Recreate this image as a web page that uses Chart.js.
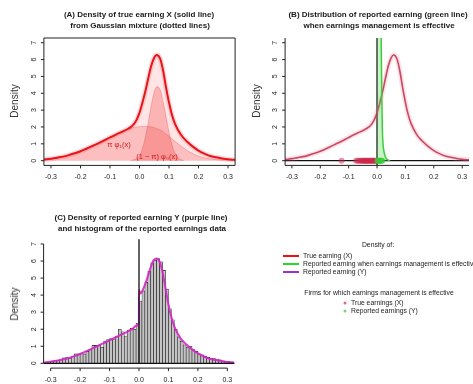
<!DOCTYPE html>
<html><head><meta charset="utf-8">
<script src="https://cdn.jsdelivr.net/npm/chart.js@4"></script>
<style>
html,body{margin:0;padding:0;width:473px;height:384px;overflow:hidden;background:#fff;font-family:"Liberation Sans",Arial,sans-serif;}
canvas{position:absolute;left:0;top:0;}
.t{position:absolute;white-space:nowrap;transform:translate(-50%,-50%);color:#1a1a1a;line-height:1;}
.title{font-weight:bold;font-size:8px;}
.ylab{font-size:10px;transform:translate(-50%,-50%) rotate(-90deg);color:#333;}
.ann{font-size:7.5px;color:#d01818;}
.lg{position:absolute;white-space:nowrap;font-size:6.8px;color:#222;line-height:1;transform:translateY(-50%);}
.lgc{position:absolute;white-space:nowrap;font-size:6.8px;color:#222;line-height:1;transform:translate(-50%,-50%);}
.ln{position:absolute;height:2px;width:16px;}
.dot{position:absolute;width:3px;height:3px;border-radius:50%;transform:translate(-50%,-50%);}
</style></head><body>
<canvas id="cA" width="473" height="384"></canvas>
<canvas id="cB" width="473" height="384"></canvas>
<canvas id="cC" width="473" height="384"></canvas>

<div class="t title" style="left:139px;top:15px">(A) Density of true earning X (solid line)</div>
<div class="t title" style="left:140px;top:26px">from Gaussian mixture (dotted lines)</div>
<div class="t title" style="left:378px;top:15px">(B) Distribution of reported earning (green line)</div>
<div class="t title" style="left:379px;top:26px">when earnings management is effective</div>
<div class="t title" style="left:141px;top:218px">(C) Density of reported earning Y (purple line)</div>
<div class="t title" style="left:142px;top:229px">and histogram of the reported earnings data</div>

<div class="t ylab" style="left:15px;top:101px">Density</div>
<div class="t ylab" style="left:257px;top:101px">Density</div>
<div class="t ylab" style="left:15px;top:304px">Density</div>

<div class="t ann" style="left:119px;top:145px">π φ₁(x)</div>
<div class="t ann" style="left:157px;top:157px">(1 − π) φ₀(x)</div>

<div class="lgc" style="left:378px;top:245px">Density of:</div>
<div class="ln" style="left:283px;top:255px;background:#ee1111"></div>
<div class="lg" style="left:303px;top:256px">True earning (X)</div>
<div class="ln" style="left:283px;top:263px;background:#22dd22"></div>
<div class="lg" style="left:303px;top:264px">Reported earning when earnings management is effective</div>
<div class="ln" style="left:283px;top:271px;background:#9933cc"></div>
<div class="lg" style="left:303px;top:272px">Reported earning (Y)</div>
<div class="lgc" style="left:379px;top:293px">Firms for which earnings management is effective</div>
<div class="dot" style="left:345px;top:303px;background:rgba(220,40,70,0.7)"></div>
<div class="lg" style="left:351px;top:303px">True earnings (X)</div>
<div class="dot" style="left:345px;top:311px;background:rgba(60,200,60,0.7)"></div>
<div class="lg" style="left:351px;top:311px">Reported earnings (Y)</div>

<script>
// ---------- data ----------
const xTicks = [-0.3,-0.2,-0.1,0.0,0.1,0.2,0.3];
const yTicks = [0,1,2,3,4,5,6,7];

// density of true earning X (mixture)
const xTrue = [-0.324,-0.3,-0.28,-0.26,-0.24,-0.22,-0.2,-0.18,-0.16,-0.14,-0.12,-0.1,-0.08,-0.06,-0.04,-0.03,-0.02,-0.01,0,0.01,0.02,0.03,0.04,0.05,0.058,0.07,0.08,0.09,0.1,0.11,0.12,0.14,0.16,0.18,0.2,0.22,0.24,0.26,0.28,0.3,0.324];
const dTrue = [0.07,0.12,0.18,0.24,0.33,0.44,0.56,0.71,0.87,1.03,1.2,1.38,1.55,1.71,1.88,1.99,2.15,2.42,2.85,3.45,4.13,4.92,5.65,6.12,6.27,6.05,5.35,4.35,3.45,2.72,2.2,1.55,1.15,0.85,0.6,0.42,0.28,0.2,0.13,0.08,0.05];

// wide component  pi*phi1
const xWide = [-0.324,-0.3,-0.25,-0.2,-0.15,-0.1,-0.05,-0.03,0,0.02,0.04,0.06,0.08,0.1,0.12,0.14,0.16,0.18,0.2,0.22,0.25,0.3,0.324];
const dWide = [0.07,0.12,0.26,0.56,0.95,1.38,1.78,1.93,2.02,2.03,2.0,1.9,1.72,1.45,1.15,0.88,0.62,0.42,0.27,0.17,0.08,0.03,0.02];

// narrow component (1-pi)*phi0
const xNarrow = [-0.03,-0.02,-0.01,0,0.01,0.02,0.03,0.04,0.05,0.06,0.07,0.08,0.09,0.1,0.11,0.12,0.13,0.14,0.15];
const dNarrow = [0,0.05,0.12,0.3,0.7,1.4,2.3,3.3,4.1,4.4,4.2,3.5,2.6,1.7,0.95,0.45,0.18,0.06,0];

// reported earning when management is effective (green)
const xGreen = [0,0.005,0.01,0.0145,0.0165,0.0185,0.021,0.025,0.03,0.035,0.04,0.046];
const dGreen = [70,40,18,7.3,4.2,2.0,1.0,0.5,0.2,0.08,0.03,0];

// firms with effective management (rug points)
const rugTrueX = [-0.125,-0.074,-0.068,-0.063,-0.058,-0.054,-0.05,-0.047,-0.044,-0.041,-0.038,-0.035,-0.032,-0.029,-0.026,-0.023,-0.02,-0.017,-0.014,-0.011,-0.008,-0.005,-0.002];
const rugRepX = [0.001,0.003,0.005,0.007,0.009,0.011,0.013,0.016,0.019];

// histogram of reported earnings (bin centers, densities)
const binCenters = [-0.315,-0.305,-0.295,-0.285,-0.275,-0.265,-0.255,-0.245,-0.235,-0.225,-0.215,-0.205,-0.195,-0.185,-0.175,-0.165,-0.155,-0.145,-0.135,-0.125,-0.115,-0.105,-0.095,-0.085,-0.075,-0.065,-0.055,-0.045,-0.035,-0.025,-0.015,-0.005,0.005,0.015,0.025,0.035,0.045,0.055,0.065,0.075,0.085,0.095,0.105,0.115,0.125,0.135,0.145,0.155,0.165,0.175,0.185,0.195,0.205,0.215,0.225,0.235,0.245,0.255,0.265,0.275,0.285,0.295,0.305,0.315];
const histDens = [0.05,0.08,0.12,0.15,0.18,0.2,0.32,0.33,0.3,0.4,0.55,0.55,0.6,0.55,0.7,0.8,1.05,1.05,1.05,0.95,1.3,1.4,1.45,1.4,1.6,2.0,1.85,1.6,1.95,2.05,2.0,2.35,3.65,4.25,4.75,5.4,5.9,6.05,6.15,5.95,5.45,4.35,3.2,2.55,2.0,1.55,1.3,1.08,0.95,1.0,0.8,0.7,0.55,0.5,0.42,0.35,0.3,0.28,0.25,0.2,0.15,0.12,0.1,0.05];

// density of reported earning Y (purple)
const xRep = [-0.324,-0.3,-0.28,-0.26,-0.24,-0.22,-0.2,-0.18,-0.16,-0.14,-0.12,-0.1,-0.08,-0.06,-0.04,-0.02,-0.01,-0.0005,0,0.005,0.01,0.02,0.03,0.04,0.05,0.06,0.07,0.08,0.09,0.1,0.11,0.12,0.14,0.16,0.18,0.2,0.22,0.24,0.26,0.28,0.3,0.324];
const dRep = [0.05,0.1,0.15,0.22,0.3,0.42,0.55,0.7,0.86,1.02,1.18,1.35,1.52,1.68,1.85,2.05,2.2,2.3,4.3,4.1,4.2,4.6,5.1,5.65,6.05,6.15,5.95,5.35,4.4,3.45,2.7,2.15,1.5,1.12,0.82,0.58,0.4,0.27,0.19,0.13,0.08,0.05];

// ---------- helpers ----------
const pts = (xs, ys) => xs.map((x, i) => ({x: x, y: ys[i]}));
const rug = xs => xs.map(x => ({x: x, y: 0}));
const FONT = '"Liberation Sans", Arial, sans-serif';

function drawAb(chart, o){
  const {ctx, chartArea: a, scales: {x, y}} = chart;
  ctx.save();
  ctx.strokeStyle = '#111'; ctx.lineWidth = 1.3;
  if (o.vline !== undefined){
    const px = x.getPixelForValue(o.vline);
    const yb = o.vlineTo !== undefined ? y.getPixelForValue(o.vlineTo) : a.bottom;
    ctx.beginPath(); ctx.moveTo(px, a.top); ctx.lineTo(px, yb); ctx.stroke();
  }
  if (o.hline !== undefined){
    const py = y.getPixelForValue(o.hline);
    ctx.beginPath(); ctx.moveTo(a.left, py); ctx.lineTo(a.right, py); ctx.stroke();
  }
  ctx.restore();
}
function drawAxes(chart, o){
  const {ctx, chartArea: a, scales: {x, y}} = chart;
  ctx.save();
  ctx.strokeStyle = '#222'; ctx.lineWidth = 1;
  const xt = o.xTicks, yt = o.yTicks;
  ctx.beginPath();
  if (o.box === 'o'){
    ctx.rect(a.left, a.top, a.right - a.left, a.bottom - a.top);
  } else if (o.box === 'l'){
    ctx.moveTo(a.left, a.top); ctx.lineTo(a.left, a.bottom); ctx.lineTo(a.right, a.bottom);
  } else {
    ctx.moveTo(x.getPixelForValue(xt[0]), a.bottom); ctx.lineTo(x.getPixelForValue(xt[xt.length-1]), a.bottom);
    ctx.moveTo(a.left, y.getPixelForValue(yt[0])); ctx.lineTo(a.left, y.getPixelForValue(yt[yt.length-1]));
  }
  xt.forEach(v => { const p = x.getPixelForValue(v); ctx.moveTo(p, a.bottom); ctx.lineTo(p, a.bottom + 3); });
  yt.forEach(v => { const p = y.getPixelForValue(v); ctx.moveTo(a.left, p); ctx.lineTo(a.left - 3, p); });
  ctx.stroke();
  ctx.fillStyle = '#222';
  ctx.font = '7px ' + FONT;
  ctx.textAlign = 'center'; ctx.textBaseline = 'middle';
  xt.forEach(v => { ctx.fillText(v.toFixed(1), x.getPixelForValue(v), a.bottom + 12); });
  yt.forEach(v => {
    ctx.save(); ctx.translate(a.left - 10, y.getPixelForValue(v)); ctx.rotate(-Math.PI/2);
    ctx.fillText(String(v), 0, 0); ctx.restore();
  });
  ctx.restore();
}
const rAxes = {
  id: 'rAxes',
  beforeDatasetsDraw(chart, args, o){ if (o.abBelow) drawAb(chart, o); },
  afterDatasetsDraw(chart, args, o){ if (!o.abBelow) drawAb(chart, o); drawAxes(chart, o); }
};

function baseOptions(area, extra){
  return {
    responsive: false, animation: false, devicePixelRatio: 1,
    layout: {padding: {left: area.l, top: area.t, right: 473 - area.r, bottom: 384 - area.b}},
    plugins: {legend: {display: false}, tooltip: {enabled: false},
      rAxes: Object.assign({xTicks: xTicks, yTicks: yTicks}, extra)},
    elements: {point: {radius: 0}, line: {cubicInterpolationMode: 'monotone'}},
    scales: {
      x: {type: 'linear', min: -0.324, max: 0.324, display: false, offset: false},
      y: {type: 'linear', min: -0.28, max: 7.28, display: false}
    }
  };
}

// ---------- Panel A ----------
new Chart(document.getElementById('cA'), {
  type: 'line',
  data: {datasets: [
    {data: pts(xTrue, dTrue), borderColor: '#e8141c', borderWidth: 2, fill: false, order: 0},
    {data: pts(xTrue, dTrue), borderColor: 'rgba(255,70,70,0.2)', borderWidth: 5, fill: false, order: 1},
    {data: pts(xNarrow, dNarrow), borderColor: 'rgba(215,60,60,0.35)', borderWidth: 0.8, fill: 'origin', backgroundColor: 'rgba(240,30,30,0.25)', order: 2},
    {data: pts(xWide, dWide), borderColor: 'rgba(215,60,60,0.35)', borderWidth: 0.8, fill: 'origin', backgroundColor: 'rgba(240,30,30,0.2)', order: 3},
    {data: pts(xTrue, dTrue), borderWidth: 0, borderColor: 'rgba(0,0,0,0)', fill: 'origin', backgroundColor: 'rgba(255,40,40,0.12)', order: 4}
  ]},
  options: baseOptions({l: 43.9, r: 235.1, t: 38.0, b: 165.4}, {box: 'o'}),
  plugins: [rAxes]
});

// ---------- Panel B ----------
new Chart(document.getElementById('cB'), {
  type: 'line',
  data: {datasets: [
    {data: rug(rugRepX), showLine: false, pointRadius: 3, pointBorderWidth: 0, pointBackgroundColor: 'rgba(60,200,60,0.55)', order: 0},
    {data: rug(rugTrueX), showLine: false, pointRadius: 3, pointBorderWidth: 0, pointBackgroundColor: 'rgba(205,40,75,0.5)', order: 1},
    {data: pts(xGreen, dGreen), borderColor: '#3ccc3c', borderWidth: 1.5, fill: 'origin', backgroundColor: 'rgba(70,215,70,0.3)', order: 2},
    {data: pts(xTrue, dTrue), borderColor: 'rgba(195,55,85,0.9)', borderWidth: 1.6, fill: false, order: 3},
    {data: pts(xTrue, dTrue), borderColor: 'rgba(240,110,130,0.2)', borderWidth: 5, fill: false, order: 4}
  ]},
  options: baseOptions({l: 285.1, r: 472.3, t: 38.0, b: 165.4}, {box: 'l', vline: 0, hline: 0, abBelow: true}),
  plugins: [rAxes]
});

// ---------- Panel C ----------
new Chart(document.getElementById('cC'), {
  type: 'bar',
  data: {datasets: [
    {type: 'line', data: pts(xRep, dRep), borderColor: 'rgba(215,35,200,0.9)', borderWidth: 2, fill: false, order: 0, cubicInterpolationMode: 'monotone'},
    {type: 'bar', data: pts(binCenters, histDens), backgroundColor: '#c4c4c4', borderColor: '#1a1a1a', borderWidth: 0.6, borderSkipped: false, barPercentage: 1, categoryPercentage: 1, grouped: false, order: 1}
  ]},
  options: baseOptions({l: 43.6, r: 234.4, t: 239.2, b: 368.1}, {box: 'n', vline: 0, vlineTo: 0, hline: 0, abBelow: false}),
  plugins: [rAxes]
});
</script>
</body></html>
